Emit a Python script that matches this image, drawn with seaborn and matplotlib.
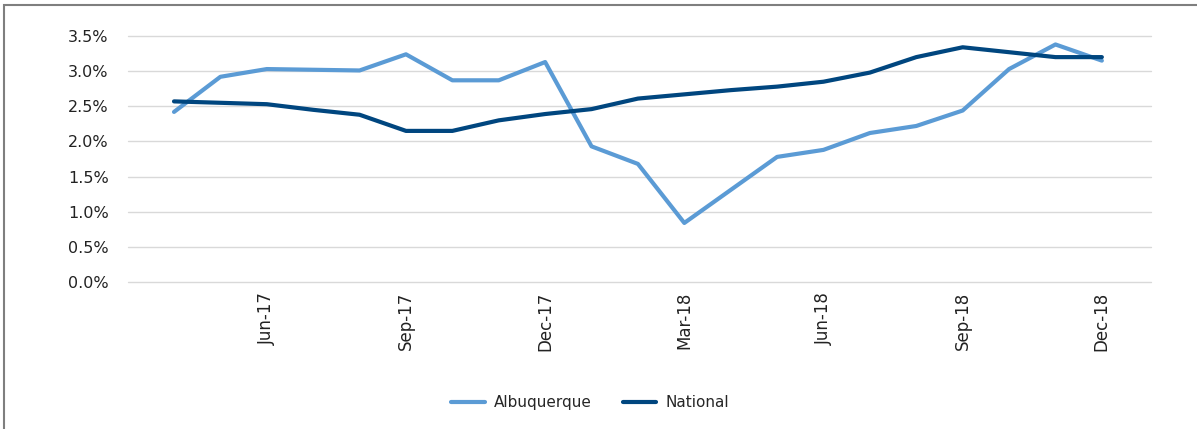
import matplotlib
matplotlib.use("Agg")
import matplotlib.pyplot as plt
from matplotlib.patches import Rectangle
from matplotlib.ticker import PercentFormatter
import pandas as pd
import seaborn as sns

months = ["Apr-17", "May-17", "Jun-17", "Jul-17", "Aug-17", "Sep-17", "Oct-17",
          "Nov-17", "Dec-17", "Jan-18", "Feb-18", "Mar-18", "Apr-18", "May-18",
          "Jun-18", "Jul-18", "Aug-18", "Sep-18", "Oct-18", "Nov-18", "Dec-18"]

albuquerque = [2.42, 2.92, 3.03, 3.02, 3.01, 3.24, 2.87, 2.87, 3.13, 1.93, 1.68,
               0.84, 1.31, 1.78, 1.88, 2.12, 2.22, 2.44, 3.03, 3.38, 3.15]
national = [2.57, 2.55, 2.53, 2.45, 2.38, 2.15, 2.15, 2.30, 2.39, 2.46, 2.61,
            2.67, 2.73, 2.78, 2.85, 2.98, 3.20, 3.34, 3.27, 3.20, 3.20]

shown_ticks = ["Jun-17", "Sep-17", "Dec-17", "Mar-18", "Jun-18", "Sep-18", "Dec-18"]

df = pd.DataFrame({
    "idx": list(range(len(months))) * 2,
    "value": [v / 100 for v in albuquerque + national],
    "series": ["Albuquerque"] * len(months) + ["National"] * len(months),
})

sns.set_theme(style="white")
plt.rcParams["font.family"] = ["DejaVu Sans"]

fig = plt.figure(figsize=(11.97, 4.29), dpi=100)
ax = fig.add_axes([0.107, 0.3427, 0.8546, 0.5733])

sns.lineplot(data=df, x="idx", y="value", hue="series",
             palette={"Albuquerque": "#5B9BD5", "National": "#00467F"},
             linewidth=3.0, ax=ax, legend=False)

ax.set_xlim(-0.99, 21.06)
ax.set_ylim(0, 0.035)
ax.set_yticks([i * 0.005 for i in range(8)])
ax.yaxis.set_major_formatter(PercentFormatter(1.0, decimals=1))
ax.set_xticks([months.index(m) for m in shown_ticks])
ax.set_xticklabels(shown_ticks, rotation=90, fontsize=12, color="#222222")
ax.tick_params(axis="y", labelsize=11.5, colors="#222222", length=0, pad=14)
ax.tick_params(axis="x", length=0, pad=7)
ax.grid(axis="y", color="#d9d9d9", linewidth=1)
for gl in ax.get_ygridlines():
    gl.set_clip_on(False)
ax.set_axisbelow(True)
for s in ax.spines.values():
    s.set_visible(False)
ax.set_xlabel("")
ax.set_ylabel("")

handles = [plt.Line2D([], [], color="#5B9BD5", lw=3.0),
           plt.Line2D([], [], color="#00467F", lw=3.0)]
fig.legend(handles, ["Albuquerque", "National"], loc="center",
           bbox_to_anchor=(0.493, 0.061), ncol=2, frameon=False,
           fontsize=11, handlelength=2.2, columnspacing=2.0, handletextpad=0.6)

fig.patches.append(Rectangle((4 / 1197, -0.1), 1.2, 1 - 5 / 429 + 0.1,
                             transform=fig.transFigure, fill=False,
                             edgecolor="#7f7f7f", linewidth=1.5))

fig.savefig("out.png", dpi=100)
